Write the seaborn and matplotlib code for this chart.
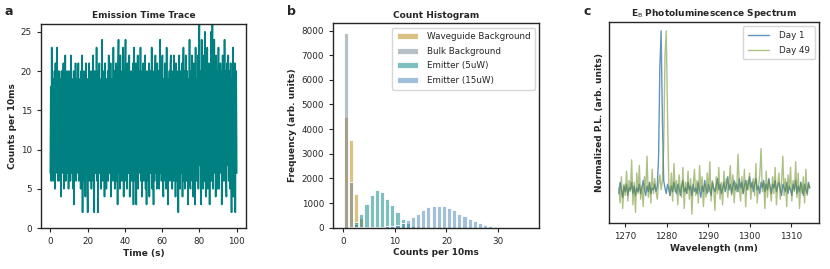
import numpy as np
import pandas as pd
import seaborn as sns
import matplotlib.pyplot as plt

# panel a: counts per 10ms bin (subsampled)
trace_counts = [
    7, 18, 6, 23, 9, 17, 6, 19, 8, 20, 5, 21, 7, 16, 23, 8, 19, 6, 20, 9,
    17, 6, 19, 4, 20, 8, 18, 7, 21, 5, 16, 9, 22, 6, 19, 8, 20, 7, 17, 5,
    20, 8, 18, 6, 22, 7, 19, 9, 17, 5, 20, 3, 18, 8, 21, 6, 19, 7, 16, 9,
    21, 6, 18, 8, 19, 5, 20, 7, 22, 2, 17, 9, 20, 6, 18, 4, 21, 8, 19, 7,
    2, 19, 7, 21, 6, 18, 8, 20, 5, 17, 9, 22, 6, 19, 2, 20, 7, 18, 8, 23,
    6, 19, 2, 20, 8, 21, 7, 17, 5, 19, 9, 24, 6, 18, 8, 20, 4, 21, 7, 18,
    5, 19, 8, 20, 6, 22, 7, 18, 9, 21, 4, 19, 8, 17, 6, 23, 7, 20, 5, 18,
    8, 21, 6, 19, 3, 20, 24, 7, 18, 5, 22, 8, 19, 6, 20, 9, 23, 4, 18, 7,
    19, 24, 6, 20, 5, 21, 8, 18, 7, 22, 4, 19, 9, 20, 6, 17, 8, 21, 3, 23,
    7, 19, 6, 21, 3, 18, 8, 22, 5, 20, 7, 17, 9, 23, 6, 19, 4, 20, 8, 21,
    6, 18, 7, 22, 5, 19, 3, 20, 8, 17, 6, 21, 4, 19, 7, 20, 9, 23, 5, 18,
    8, 3, 20, 6, 19, 22, 7, 18, 5, 21, 8, 17, 20, 5, 19, 24, 7, 18, 6, 20,
    22, 7, 4, 19, 8, 21, 6, 20, 5, 23, 7, 18, 3, 19, 9, 20, 6, 21, 22, 8,
    17, 5, 20, 7, 6, 22, 8, 19, 4, 21, 6, 18, 7, 20, 2, 19, 22, 8, 5, 20,
    7, 19, 21, 4, 18, 23, 6, 20, 5, 19, 22, 8, 6, 20, 7, 3, 19, 8, 24, 6,
    5, 20, 7, 22, 6, 19, 4, 21, 8, 18, 3, 23, 7, 6, 19, 8, 22, 5, 20, 26,
    8, 20, 6, 3, 24, 7, 19, 5, 22, 8, 6, 25, 7, 4, 19, 6, 23, 5, 20, 8,
    21, 3, 18, 7, 25, 6, 19, 26, 5, 20, 7, 24, 8, 19, 4, 22, 6, 20, 5, 18,
    23, 5, 19, 7, 21, 8, 20, 3, 18, 22, 6, 19, 8, 24, 6, 20, 7, 4, 21, 8,
    19, 22, 6, 20, 7, 5, 21, 8, 2, 19, 6, 23, 4, 20, 7, 21, 2, 18, 20, 7,
]
trace_time = np.linspace(0, 100, len(trace_counts))

# panel b: histogram bins (counts per 10ms) and frequencies
hist_bins = np.arange(0, 37)
waveguide_bg = [4500, 3550, 1380, 380, 60, 10, 0, 0, 0, 0, 0, 0, 0, 0, 0, 0, 0, 0,
                0, 0, 0, 0, 0, 0, 0, 0, 0, 0, 0, 0, 0, 0, 0, 0, 0, 0]
bulk_bg = [7900, 1850, 150, 20, 0, 0, 0, 0, 0, 0, 0, 0, 0, 0, 0, 0, 0, 0,
           0, 0, 0, 0, 0, 0, 0, 0, 0, 0, 0, 0, 0, 0, 0, 0, 0, 0]
emitter_5uw = [0, 40, 230, 560, 980, 1330, 1540, 1450, 1170, 900, 620, 350, 180, 80, 30, 10, 0, 0,
               0, 0, 0, 0, 0, 0, 0, 0, 0, 0, 0, 0, 0, 0, 0, 0, 0, 0]
emitter_15uw = [0, 5, 10, 15, 20, 25, 30, 40, 50, 70, 100, 200, 330, 420, 560, 720, 820, 870,
                880, 880, 800, 700, 560, 470, 360, 260, 170, 100, 60, 30, 15, 8, 4, 2, 1, 1]

# panel c: normalized PL spectra
wavelength = np.linspace(1268.5, 1314.5, 150)
day1 = [
    0.13, 0.19, 0.15, 0.11, 0.17, 0.14, 0.18, 0.12, 0.16, 0.15, 0.19, 0.13, 0.17, 0.12, 0.16,
    0.14, 0.18, 0.13, 0.16, 0.20, 0.15, 0.12, 0.17, 0.14, 0.19, 0.13, 0.16, 0.15, 0.18, 0.14,
    0.17, 0.32, 0.80, 1.00, 0.52, 0.20, 0.16, 0.13, 0.18, 0.15, 0.12, 0.17, 0.14, 0.19, 0.15,
    0.13, 0.18, 0.16, 0.12, 0.17, 0.20, 0.14, 0.16, 0.13, 0.19, 0.15, 0.17, 0.12, 0.18, 0.14,
    0.16, 0.13, 0.19, 0.15, 0.11, 0.17, 0.14, 0.20, 0.16, 0.13, 0.18, 0.15, 0.12, 0.19, 0.16,
    0.14, 0.17, 0.21, 0.15, 0.18, 0.13, 0.16, 0.19, 0.14, 0.17, 0.22, 0.15, 0.18, 0.13, 0.17,
    0.20, 0.15, 0.18, 0.14, 0.21, 0.16, 0.19, 0.13, 0.17, 0.20, 0.15, 0.18, 0.22, 0.16, 0.19,
    0.14, 0.18, 0.21, 0.15, 0.17, 0.13, 0.19, 0.16, 0.20, 0.14, 0.18, 0.15, 0.21, 0.17, 0.13,
    0.18, 0.16, 0.20, 0.14, 0.17, 0.19, 0.15, 0.12, 0.18, 0.16, 0.14, 0.19, 0.13, 0.17, 0.15,
    0.12, 0.18, 0.15, 0.20, 0.13, 0.17, 0.14, 0.19, 0.16, 0.12, 0.18, 0.15, 0.13, 0.19, 0.16,
]
day49 = [
    0.16, 0.08, 0.22, 0.05, 0.18, 0.12, 0.25, 0.09, 0.20, 0.14, 0.31, 0.07, 0.19, 0.03, 0.24,
    0.13, 0.28, 0.10, 0.17, 0.06, 0.22, 0.15, 0.33, 0.11, 0.19, 0.08, 0.26, 0.13, 0.21, 0.14,
    0.10, 0.18, 0.23, 0.15, 0.20, 0.38, 0.86, 1.00, 0.55, 0.18, 0.12, 0.24, 0.09, 0.29, 0.14,
    0.20, 0.07, 0.23, 0.16, 0.11, 0.27, 0.05, 0.19, 0.13, 0.25, 0.10, 0.21, 0.02, 0.17, 0.26,
    0.12, 0.20, 0.08, 0.28, 0.15, 0.22, 0.06, 0.18, 0.11, 0.24, 0.14, 0.30, 0.09, 0.20, 0.16,
    0.04, 0.22, 0.13, 0.27, 0.10, 0.19, 0.07, 0.25, 0.15, 0.21, 0.11, 0.18, 0.28, 0.12, 0.23,
    0.08, 0.19, 0.14, 0.34, 0.17, 0.09, 0.22, 0.13, 0.26, 0.06, 0.20, 0.15, 0.24, 0.10, 0.18,
    0.21, 0.12, 0.29, 0.08, 0.17, 0.23, 0.37, 0.14, 0.19, 0.05, 0.25, 0.11, 0.20, 0.16, 0.09,
    0.22, 0.13, 0.27, 0.07, 0.18, 0.24, 0.10, 0.19, 0.33, 0.12, 0.21, 0.06, 0.23, 0.15, 0.27,
    0.09, 0.20, 0.14, 0.30, 0.11, 0.24, 0.05, 0.19, 0.13, 0.22, 0.08, 0.26, 0.12, 0.18, 0.16,
]

sns.set_style("ticks")
plt.rcParams["font.family"] = ["DejaVu Sans"]
plt.rcParams["axes.linewidth"] = 1.0
plt.rcParams["xtick.labelsize"] = 6.3
plt.rcParams["ytick.labelsize"] = 6.3
plt.rcParams["xtick.major.size"] = 3
plt.rcParams["ytick.major.size"] = 3

fig = plt.figure(figsize=(8.3, 2.69), dpi=100)
ax_a = fig.add_axes([0.0494, 0.1524, 0.247, 0.7584])
ax_b = fig.add_axes([0.4012, 0.1537, 0.2486, 0.7597])
ax_c = fig.add_axes([0.7341, 0.1699, 0.253, 0.7494])

lab = dict(fontsize=6.5, fontweight="bold")

# a: time trace
sns.lineplot(x=trace_time, y=trace_counts, ax=ax_a, color="teal", linewidth=1.2)
ax_a.set_ylim(0, max(trace_counts))
ax_a.set_xticks([0, 20, 40, 60, 80, 100])
ax_a.set_yticks([0, 5, 10, 15, 20, 25])
ax_a.set_title("Emission Time Trace", pad=4, **lab)
ax_a.set_xlabel("Time (s)", labelpad=2, **lab)
ax_a.set_ylabel("Counts per 10ms", labelpad=3, **lab)

# b: histogram
series = [
    ("Waveguide Background", waveguide_bg, "darkgoldenrod"),
    ("Bulk Background", bulk_bg, "slategray"),
    ("Emitter (5uW)", emitter_5uw, "teal"),
    ("Emitter (15uW)", emitter_15uw, "steelblue"),
]
for name, vals, col in series:
    df = pd.DataFrame({"counts": hist_bins[:-1] + 0.5, "freq": vals})
    sns.histplot(data=df, x="counts", weights="freq", binwidth=1,
                 binrange=(hist_bins[0], hist_bins[-1]), ax=ax_b,
                 color=col, alpha=0.5, shrink=0.8, edgecolor="white", linewidth=0.6,
                 label=name)
ax_b.set_xlim(-2, 38)
ax_b.set_xticks([0, 10, 20, 30])
ax_b.set_yticks(range(0, 8001, 1000))
ax_b.set_title("Count Histogram", pad=4, **lab)
ax_b.set_xlabel("Counts per 10ms", labelpad=2, **lab)
ax_b.set_ylabel("Frequency (arb. units)", labelpad=3, **lab)
ax_b.legend(loc="upper right", fontsize=6.3, frameon=True, handlelength=2.4,
            handletextpad=1.0, borderpad=0.55, labelspacing=0.62)

# c: spectrum
sns.lineplot(x=wavelength, y=day1, ax=ax_c, color="steelblue", linewidth=1.0,
             alpha=0.85, label="Day 1")
sns.lineplot(x=wavelength, y=day49, ax=ax_c, color="olivedrab", linewidth=1.0,
             alpha=0.55, label="Day 49")
ax_c.set_yticks([])
ax_c.set_xticks([1270, 1280, 1290, 1300, 1310])
ax_c.set_title("E$_\\mathrm{B}$ Photoluminescence Spectrum", pad=4, **lab)
ax_c.set_xlabel("Wavelength (nm)", labelpad=2, **lab)
ax_c.set_ylabel("Normalized P.L. (arb. units)", labelpad=4, **lab)
ax_c.legend(loc="upper right", fontsize=6.3, frameon=True, handlelength=2.5,
            handletextpad=1.1, borderpad=0.55, labelspacing=0.66)

fig.text(0.006, 0.945, "a", fontsize=9, fontweight="bold")
fig.text(0.346, 0.945, "b", fontsize=9, fontweight="bold")
fig.text(0.703, 0.945, "c", fontsize=9, fontweight="bold")

fig.savefig("out.png", dpi=100)
